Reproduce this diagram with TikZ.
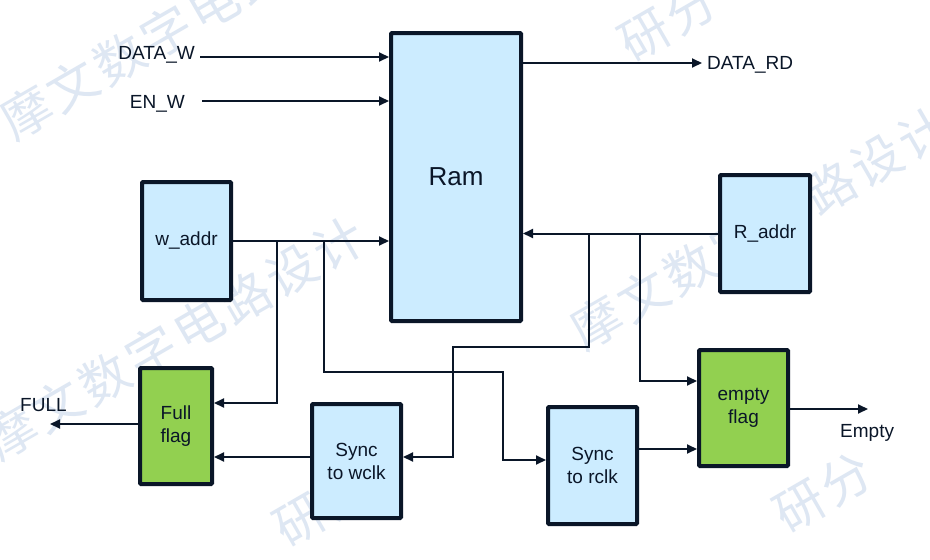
\documentclass[tikz,border=0pt]{standalone}
\usepackage{fontspec}
\setmainfont{Liberation Sans}
\newfontfamily\cjk[LetterSpace=8]{Noto Sans CJK SC}
\usetikzlibrary{arrows.meta}
\definecolor{ink}{RGB}{10,22,40}
\definecolor{lblue}{RGB}{204,236,255}
\definecolor{lgreen}{RGB}{146,208,80}
\definecolor{wmark}{RGB}{222,231,243}
\begin{document}
\begin{tikzpicture}[x=1pt,y=-1pt,
  box/.style={draw=ink, line width=4pt, fill=lblue, inner sep=0pt, align=center,
    text=ink, font=\fontsize{19}{23}\selectfont, rounded corners=1pt},
  flagbox/.style={box, fill=lgreen},
  wire/.style={draw=ink, line width=2pt},
  arr/.style={wire, -{Triangle[length=10pt,width=9pt]}},
  lbl/.style={text=ink, font=\fontsize{19}{23}\selectfont, inner sep=0pt},
  wm/.style={text=wmark, font=\cjk\fontsize{50}{50}\selectfont, rotate=30, inner sep=0pt}]
\useasboundingbox[fill=white] (0,0) rectangle (930,560);
% watermarks (behind)
\node[wm] (wm1) at (190,18) {摩文数字电路设计};
\node[wm] (wm2) at (175,338) {摩文数字电路设计};
\node[wm] (wm3) at (760,228) {摩文数字电路设计};
\node[wm] (wm4) at (668,22) {研分};
\node[wm] (wm5) at (323,507) {研分};
\node[wm] (wm6) at (823,493) {研分};
% boxes
\node[box, minimum width=130pt, minimum height=288pt, font=\fontsize{26}{30}\selectfont] (ram) at (456,177) {Ram};
\node[box, minimum width=89pt, minimum height=118pt] (waddr) at (186.5,241) {w\_addr};
\node[box, minimum width=90pt, minimum height=117pt] (raddr) at (765,233.5) {R\_addr};
\node[flagbox, minimum width=72pt, minimum height=116pt] (fullf) at (176,426) {Full\\flag};
\node[box, minimum width=89pt, minimum height=114pt] (swclk) at (356.5,461) {Sync\\to wclk};
\node[box, minimum width=89pt, minimum height=117pt] (srclk) at (592.5,465.5) {Sync\\to rclk};
\node[flagbox, minimum width=89pt, minimum height=116pt] (ef) at (743.5,408) {empty\\flag};
% labels
\node[lbl, anchor=base east] (dwl) at (195,59.5) {DATA\_W};
\node[lbl, anchor=base east] (ewl) at (185,108) {EN\_W};
\node[lbl, anchor=base west] (drl) at (707,69) {DATA\_RD};
\node[lbl, anchor=base west] (fulll) at (20,411) {FULL};
\node[lbl, anchor=base west] (emptyl) at (840,437) {Empty};
% coordinates
\coordinate (dws) at (200,57);
\coordinate (ews) at (202,101);
\coordinate (dre) at (702,63);
\coordinate (ja) at (277,241);
\coordinate (fa) at (277,403);
\coordinate (jb) at (324,241);
\coordinate (b1) at (324,372);
\coordinate (b2) at (503,372);
\coordinate (b3) at (503,460);
\coordinate (jc) at (589,233.5);
\coordinate (c1) at (589,347);
\coordinate (c2) at (453,347);
\coordinate (c3) at (453,457);
\coordinate (jd) at (640,233.5);
\coordinate (d1) at (640,381);
\coordinate (fe) at (50,424);
\coordinate (ee) at (868,409);
% connectors
\draw[arr] (dws) -- (dws -| ram.west);
\draw[arr] (ews) -- (ews -| ram.west);
\draw[arr] (ram.east |- dre) -- (dre);
\draw[arr] (waddr.east) -- (waddr.east -| ram.west);
\draw[arr] (ja) -- (fa) -- (fa -| fullf.east);
\draw[arr] (jb) -- (b1) -- (b2) -- (b3) -- (b3 -| srclk.west);
\draw[arr] (raddr.west) -- (raddr.west -| ram.east);
\draw[arr] (jc) -- (c1) -- (c2) -- (c3) -- (c3 -| swclk.east);
\draw[arr] (jd) -- (d1) -- (d1 -| ef.west);
\draw[arr] (swclk.west |- c3) -- (c3 -| fullf.east);
\draw[arr] (srclk.east |- 0,449) -- (ef.west |- 0,449);
\draw[arr] (fullf.west |- fe) -- (fe);
\draw[arr] (ef.east |- ee) -- (ee);
\end{tikzpicture}
\end{document}
